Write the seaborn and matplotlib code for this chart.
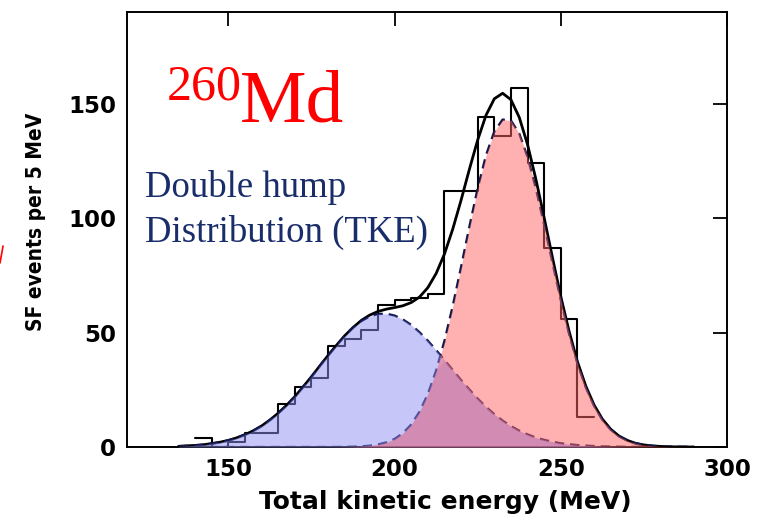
import numpy as np
import matplotlib
matplotlib.use("Agg")
import matplotlib.pyplot as plt
import seaborn as sns
from matplotlib.lines import Line2D
from matplotlib import font_manager

# histogram: SF events per 5 MeV bin (left bin edges)
bin_left = [140, 145, 150, 155, 160, 165, 170, 175, 180, 185, 190, 195,
            200, 205, 210, 215, 220, 225, 230, 235, 240, 245, 250, 255]
counts = [4, 0, 2, 6, 6, 19, 26, 30, 44, 47, 51, 62,
          64, 65, 67, 112, 112, 144, 136, 157, 124, 87, 56, 13]

# fitted curves, every 2.5 MeV
energy = [135, 137.5, 140, 142.5, 145, 147.5, 150, 152.5, 155, 157.5,
          160, 162.5, 165, 167.5, 170, 172.5, 175, 177.5, 180, 182.5,
          185, 187.5, 190, 192.5, 195, 197.5, 200, 202.5, 205, 207.5,
          210, 212.5, 215, 217.5, 220, 222.5, 225, 227.5, 230, 232.5,
          235, 237.5, 240, 242.5, 245, 247.5, 250, 252.5, 255, 257.5,
          260, 262.5, 265, 267.5, 270, 272.5, 275, 277.5, 280, 282.5,
          285, 287.5, 290]
low_mode = [0.3, 0.5, 0.7, 1.0, 1.5, 2.1, 2.9, 4.0, 5.4, 7.1,
            9.2, 11.8, 14.8, 18.2, 22.0, 26.3, 30.7, 35.4, 40.0, 44.4,
            48.5, 52.1, 55.0, 57.0, 58.1, 58.2, 57.4, 55.7, 53.3, 50.1,
            46.4, 42.3, 38.0, 33.6, 29.2, 25.1, 21.1, 17.5, 14.3, 11.5,
            9.1, 7.1, 5.5, 4.1, 3.1, 2.3, 1.6, 1.2, 0.8, 0.6,
            0.4, 0.25, 0.17, 0.11, 0.07, 0.04, 0.02, 0.01, 0, 0,
            0, 0, 0]
high_mode = [0, 0, 0, 0, 0, 0, 0, 0, 0, 0,
             0, 0, 0, 0, 0, 0, 0, 0, 0, 0.01,
             0.06, 0.13, 0.28, 0.55, 1.1, 2.0, 3.5, 6.0, 9.8, 15.4,
             23.1, 33.4, 46.3, 61.6, 78.6, 96.2, 113.0, 127.4, 137.8, 143.0,
             142.6, 136.9, 126.6, 112.9, 97.0, 80.4, 64.1, 49.3, 36.5, 26.1,
             18.0, 11.9, 7.6, 4.7, 2.8, 1.6, 0.9, 0.5, 0.24, 0.12,
             0.06, 0.03, 0.01]
total_fit = [0.3, 0.5, 0.7, 1.0, 1.5, 2.1, 2.9, 4.0, 5.4, 7.1,
             9.2, 11.8, 14.8, 18.2, 22.0, 26.3, 30.7, 35.4, 40.0, 44.4,
             48.6, 52.2, 55.3, 57.6, 59.2, 60.2, 60.9, 61.7, 63.1, 65.5,
             69.6, 75.8, 84.3, 95.2, 107.8, 121.3, 134.1, 144.9, 152.1, 154.5,
             151.7, 144.0, 132.1, 117.0, 100.1, 82.7, 65.7, 50.5, 37.3, 26.7,
             18.4, 12.2, 7.8, 4.8, 2.9, 1.6, 0.9, 0.5, 0.25, 0.12,
             0.06, 0.03, 0.01]

sns.set_style("white")
plt.rcParams["font.family"] = ["DejaVu Sans"]
plt.rcParams["font.weight"] = "bold"
plt.rcParams["text.color"] = "black"
plt.rcParams["axes.labelcolor"] = "black"

# a narrow bold face for the y label if one is installed
def narrow_font():
    for fam, stretch, size in [("Liberation Sans Narrow", "normal", 17),
                               ("DejaVu Sans", "condensed", 15)]:
        fp = font_manager.FontProperties(family=fam, stretch=stretch, weight="bold")
        try:
            path = font_manager.findfont(fp, fallback_to_default=False)
        except ValueError:
            continue
        if "Narrow" in path or "Condensed" in path:
            return fp, size
    return font_manager.FontProperties(family="DejaVu Sans", weight="bold"), 13.5

fig = plt.figure(figsize=(7.59, 5.20), dpi=100)
ax = fig.add_axes([127 / 759, 73 / 520, 600 / 759, 435 / 520])

edges = bin_left + [bin_left[-1] + 5]
centers = [b + 2.5 for b in bin_left]
sns.histplot(x=centers, weights=counts, bins=edges, element="step",
             fill=False, color="black", linewidth=1.5, ax=ax)

sns.lineplot(x=energy, y=total_fit, color="black", linewidth=2.0, ax=ax)
sns.lineplot(x=energy, y=low_mode, color="#10184a", linewidth=1.7,
             linestyle=(0, (4, 2.5)), ax=ax)
sns.lineplot(x=energy, y=high_mode, color="#10184a", linewidth=1.7,
             linestyle=(0, (4, 2.5)), ax=ax)

# translucent fills laid over the lines
ax.fill_between(energy, 0, low_mode, color="#8f8ff5", alpha=0.5,
                linewidth=0, zorder=3)
ax.fill_between(energy, 0, high_mode, color="#ff6464", alpha=0.5,
                linewidth=0, zorder=4)
ax.fill_between(energy, 0, np.minimum(low_mode, high_mode), color="#b078bc",
                alpha=0.3, linewidth=0, zorder=5)

ax.set_xlim(119.5, 300)
ax.set_ylim(0, 190)
ax.set_xticks([150, 200, 250, 300])
ax.set_yticks([0, 50, 100, 150])
ax.tick_params(direction="in", length=10, width=1.3, top=True, right=True,
               labelsize=16.5, pad=8, colors="black")
for lab in ax.get_xticklabels() + ax.get_yticklabels():
    lab.set_fontweight("bold")
for sp in ax.spines.values():
    sp.set_linewidth(1.4)
    sp.set_color("black")

ax.set_xlabel("Total kinetic energy (MeV)", fontsize=18, fontweight="bold")
yfp, ysize = narrow_font()
ax.set_ylabel("SF events per 5 MeV", fontproperties=yfp, fontsize=ysize)
ax.xaxis.set_label_coords((445 - 127) / 600, (447 - 490) / 435)
ax.yaxis.set_label_coords((46 - 127) / 600, (447 - 222) / 435)

serif = ["Liberation Serif", "DejaVu Serif"]
ax.text((167 - 127) / 600, (447 - 100) / 435, "260", transform=ax.transAxes,
        color="red", fontsize=36, family=serif, fontweight="normal",
        va="baseline", ha="left")
ax.text((240 - 127) / 600, (447 - 122) / 435, "Md", transform=ax.transAxes,
        color="red", fontsize=54, family=serif, fontweight="normal",
        va="baseline", ha="left")
ax.text((145 - 127) / 600, (447 - 197) / 435, "Double hump",
        transform=ax.transAxes, color="#1a2d6b", fontsize=26.5, family=serif,
        fontweight="normal", va="baseline", ha="left")
ax.text((145 - 127) / 600, (447 - 242) / 435, "Distribution (TKE)",
        transform=ax.transAxes, color="#1a2d6b", fontsize=26.5, family=serif,
        fontweight="normal", va="baseline", ha="left")

# small red stroke at the left edge of the original slide
fig.add_artist(Line2D([0.0, 0.004], [1 - 263 / 520, 1 - 246 / 520],
                      color="red", linewidth=1.2))

fig.savefig("out.png", dpi=100)
